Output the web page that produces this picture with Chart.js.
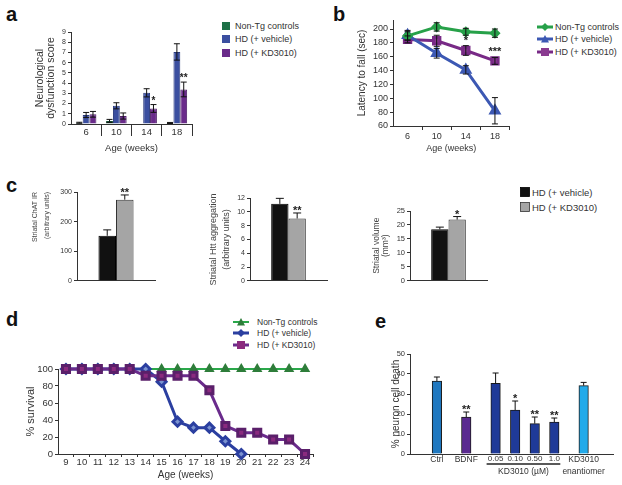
<!DOCTYPE html>
<html>
<head>
<meta charset="utf-8">
<script src="https://cdn.jsdelivr.net/npm/chart.js@4.4.0/dist/chart.umd.min.js"></script>
<style>
  body { margin: 0; width: 622px; height: 485px; position: relative; overflow: hidden; background: #fff;
         font-family: 'Liberation Sans', Arial, sans-serif; color: #333; }
  canvas { position: absolute; }
  .tag { position: absolute; font-weight: bold; font-size: 20px; line-height: 20px; color: #111; }
  .legend { position: absolute; font-size: 9px; white-space: nowrap; }
  .legend .row { display: flex; align-items: center; }
  .legend svg { flex: none; }
</style>
</head>
<body>
<div class="tag" style="left:6px;top:4px">a</div>
<div class="tag" style="left:333px;top:4px">b</div>
<div class="tag" style="left:6px;top:175px">c</div>
<div class="tag" style="left:6px;top:309px">d</div>
<div class="tag" style="left:375px;top:311px">e</div>

<canvas id="chartA"></canvas>
<canvas id="chartB"></canvas>
<canvas id="chartC1"></canvas>
<canvas id="chartC2"></canvas>
<canvas id="chartC3"></canvas>
<canvas id="chartD"></canvas>
<canvas id="chartE"></canvas>

<div class="legend" id="legendA" style="left:222px;top:19px"></div>
<div class="legend" id="legendB" style="left:537px;top:20.5px"></div>
<div class="legend" id="legendC" style="left:520px;top:184.5px;font-size:9.5px"></div>
<div class="legend" id="legendD" style="left:233px;top:316px;font-size:8.5px"></div>

<script>
// ---- data ----
const groupNames = ['Non-Tg controls', 'HD (+ vehicle)', 'HD (+ KD3010)'];

// a: neurological dysfunction score
const aAges = ['6', '10', '14', '18'];
const aNonTg = [0.12, 0.3, 0, 0.1];
const aNonTgErr = [0.05, 0.15, 0, 0.05];
const aVehicle = [0.88, 1.78, 3.05, 7.05];
const aVehicleErr = [0.25, 0.3, 0.4, 0.8];
const aKD = [0.95, 0.78, 1.52, 3.38];
const aKDErr = [0.28, 0.3, 0.38, 0.72];
const aKDStars = ['', '', '*', '**'];

// b: latency to fall
const bAges = ['6', '10', '14', '18'];
const bNonTg = [190, 203, 196, 194];
const bNonTgErr = [6, 6, 5, 6];
const bVehicle = [191, 165, 141, 82];
const bVehicleErr = [7, 7, 6, 19];
const bKD = [185, 183, 169, 154];
const bKDErr = [5, 8, 7, 5];
const bKDStars = ['', '', '*', '***'];

// c: striatal measures (vehicle vs KD3010)
const cGroups = ['HD (+ vehicle)', 'HD (+ KD3010)'];
const cChat = [152, 274];
const cChatErr = [20, 16];
const cChatStars = ['', '**'];
const cHtt = [11.15, 9.03];
const cHttErr = [0.8, 0.8];
const cHttStars = ['', '**'];
const cVolume = [18.4, 21.9];
const cVolumeErr = [0.8, 1.1];
const cVolumeStars = ['', '*'];

// d: survival
const dWeeks = ['9', '10', '11', '12', '13', '14', '15', '16', '17', '18', '19', '20', '21', '22', '23', '24'];
const dNonTg = [100, 100, 100, 100, 100, 100, 100, 100, 100, 100, 100, 100, 100, 100, 100, 100];
const dVehicle = [100, 100, 100, 100, 100, 100, 85, 38, 31, 31, 15, 0, null, null, null, null];
const dKD = [100, 100, 100, 100, 100, 92, 92, 92, 92, 75, 33, 25, 25, 17, 17, 0];

// e: neuron cell death
const eLabels = ['Ctrl', 'BDNF', '0.05', '0.10', '0.50', '1.0', ['KD3010', 'enantiomer']];
const eValues = [36.5, 18.5, 35.3, 22, 15.2, 16, 34.2];
const eErr = [2, 2.5, 5.2, 4.5, 3.3, 2, 1.6];
const eStars = ['', '**', '', '*', '**', '**', ''];
const eGroupLabel = 'KD3010 (\u00b5M)';

// ---- setup ----
const FONT = "'Liberation Sans', Arial, sans-serif";
Chart.defaults.font.family = FONT;
Chart.defaults.color = '#333';
Chart.defaults.animation = false;
Chart.defaults.events = [];
Chart.defaults.plugins.legend.display = false;
Chart.defaults.plugins.tooltip.enabled = false;

// error bars + significance stars, from each dataset's errors array
const errorBars = {
  id: 'errorBars',
  afterDatasetsDraw(chart) {
    const ctx = chart.ctx;
    const y = chart.scales.y;
    chart.data.datasets.forEach((ds, i) => {
      if (!ds.errors) return;
      const meta = chart.getDatasetMeta(i);
      meta.data.forEach((el, j) => {
        const raw = ds.data[j];
        const v = raw !== null && typeof raw === 'object' ? raw.y : raw;
        if (v == null) return;
        const e = ds.errors[j] || 0;
        const top = y.getPixelForValue(v + e);
        const cap = ds.capWidth || 3;
        ctx.save();
        ctx.strokeStyle = '#111';
        ctx.lineWidth = 1;
        if (e > 0) {
          const bot = ds.errorBoth ? y.getPixelForValue(v - e) : el.y;
          ctx.beginPath();
          ctx.moveTo(el.x, top); ctx.lineTo(el.x, bot);
          ctx.moveTo(el.x - cap, top); ctx.lineTo(el.x + cap, top);
          if (ds.errorBoth) { ctx.moveTo(el.x - cap, bot); ctx.lineTo(el.x + cap, bot); }
          ctx.stroke();
        }
        if (ds.stars && ds.stars[j]) {
          ctx.fillStyle = '#222';
          ctx.font = 'bold ' + (ds.starSize || 10) + 'px ' + FONT;
          ctx.textAlign = 'center';
          ctx.textBaseline = 'alphabetic';
          ctx.fillText(ds.stars[j], el.x, top + (ds.starGap || 0));
        }
        ctx.restore();
      });
    });
  }
};
Chart.register(errorBars);

function makeChart(id, box, config) {
  const p = Object.assign({ top: 12, right: 6, bottom: 2, left: 0 }, box.pad || {});
  const canvas = document.getElementById(id);
  const w = box.x1 - box.x0 + box.yw + p.left + p.right;
  const h = box.y1 - box.y0 + box.xh + p.top + p.bottom;
  canvas.width = w; canvas.height = h;
  canvas.style.width = w + 'px'; canvas.style.height = h + 'px';
  canvas.style.left = (box.x0 - box.yw - p.left) + 'px';
  canvas.style.top = (box.y0 - p.top) + 'px';
  config.options.responsive = false;
  config.options.layout = { padding: p };
  config.options.scales.x.afterFit = s => { s.height = box.xh; };
  config.options.scales.y.afterFit = s => { s.width = box.yw; };
  return new Chart(canvas, config);
}

function yAxis(min, max, step, size, title) {
  return {
    min, max,
    ticks: { stepSize: step, font: { size }, padding: 2, includeBounds: false, autoSkip: false, color: '#333' },
    grid: { drawOnChartArea: false, tickLength: 3, color: '#333' },
    border: { color: '#333' },
    title
  };
}
const hideFirst = c => c.index === 0 ? 'rgba(0,0,0,0)' : '#333';

// ---- a ----
const chartA = makeChart('chartA', { x0: 71, x1: 192, y0: 32, y1: 124, yw: 41, xh: 30 }, {
  type: 'bar',
  data: {
    labels: aAges,
    datasets: [
      { label: groupNames[0], data: aNonTg, errors: aNonTgErr, errorBoth: true, backgroundColor: '#1d7047', borderColor: '#145234', borderWidth: 1 },
      { label: groupNames[1], data: aVehicle, errors: aVehicleErr, errorBoth: true, backgroundColor: '#3b4fa0', borderColor: '#2a3a7c', borderWidth: 1 },
      { label: groupNames[2], data: aKD, errors: aKDErr, errorBoth: true, stars: aKDStars, starGap: -1, backgroundColor: '#6a2b8a', borderColor: '#4d1f66', borderWidth: 1 }
    ]
  },
  options: {
    datasets: { bar: { barPercentage: 1, categoryPercentage: 0.68 } },
    scales: {
      x: {
        grid: { offset: true, drawOnChartArea: false, tickLength: 12, color: c => (c.index === 0 || c.index === 4) ? 'rgba(0,0,0,0)' : '#333' },
        border: { color: '#333' },
        ticks: { font: { size: 9.5 }, padding: -9, color: '#333' },
        title: { display: true, text: 'Age (weeks)', font: { size: 9.5 }, padding: { top: 0, bottom: 0 } }
      },
      y: yAxis(0, 9, 1, 7, { display: true, text: ['Neurological', 'dysfunction score'], font: { size: 10.5, lineHeight: 1.1 }, padding: { top: 4, bottom: 0 } })
    }
  }
});

// ---- b ----
const chartB = makeChart('chartB', { x0: 393, x1: 511, y0: 20, y1: 126, yw: 38, xh: 28 }, {
  type: 'line',
  data: {
    labels: bAges,
    datasets: [
      { label: groupNames[0], data: bNonTg, errors: bNonTgErr, errorBoth: true, borderColor: '#27a149', backgroundColor: '#27a149', pointStyle: 'rectRot', pointRadius: 3.5, borderWidth: 3 },
      { label: groupNames[1], data: bVehicle, errors: bVehicleErr, errorBoth: true, borderColor: '#3c58b3', backgroundColor: '#3c58b3', pointStyle: 'triangle', pointRadius: 4.5, borderWidth: 3 },
      { label: groupNames[2], data: bKD, errors: bKDErr, errorBoth: true, stars: bKDStars, starGap: -2, starSize: 11, borderColor: '#782a86', backgroundColor: '#8a3a90', pointStyle: 'rect', pointRadius: 4.5, borderWidth: 3 }
    ]
  },
  options: {
    elements: { line: { tension: 0 }, point: { borderWidth: 1 } },
    scales: {
      x: {
        offset: true,
        grid: { offset: true, drawOnChartArea: false, tickLength: 4, color: hideFirst },
        border: { color: '#333' },
        ticks: { font: { size: 9 }, padding: 1, color: '#333' },
        title: { display: true, text: 'Age (weeks)', font: { size: 9 }, padding: { top: 0, bottom: 0 } }
      },
      y: yAxis(60, 213, 20, 9, { display: true, text: 'Latency to fall (sec)', font: { size: 10 }, padding: { top: 1.5, bottom: 0 } })
    }
  }
});

// ---- c ----
function cChart(id, box, values, errs, stars, max, step, tickSize, title) {
  return makeChart(id, box, {
    type: 'bar',
    data: {
      labels: [''],
      datasets: [
        { label: cGroups[0], data: [values[0]], errors: [errs[0]], stars: [stars[0]], capWidth: 4, starSize: 11, starGap: 1, backgroundColor: '#111', borderColor: '#000', borderWidth: 1 },
        { label: cGroups[1], data: [values[1]], errors: [errs[1]], stars: [stars[1]], capWidth: 4, starSize: 11, starGap: 1, backgroundColor: '#a5a5a5', borderColor: '#333', borderWidth: 1 }
      ]
    },
    options: {
      datasets: { bar: { barPercentage: 1, categoryPercentage: 0.45 } },
      scales: {
        x: { grid: { display: false }, border: { color: '#333' }, ticks: { display: false } },
        y: yAxis(0, max, step, tickSize, title)
      }
    }
  });
}
const chartC1 = cChart('chartC1', { x0: 77, x1: 155, y0: 192, y1: 283, yw: 51, xh: 2 }, cChat, cChatErr, cChatStars, 300, 100, 7,
  { display: true, text: ['Striatal ChAT IR', '(arbitrary units)'], align: 'end', color: '#444', font: { size: 7, lineHeight: 1.7 }, padding: { top: 3, bottom: 0 } });
const chartC2 = cChart('chartC2', { x0: 250, x1: 327, y0: 198, y1: 283, yw: 45, xh: 2 }, cHtt, cHttErr, cHttStars, 12, 2, 7,
  { display: true, text: ['Striatal Htt aggregation', '(arbitrary units)'], color: '#444', font: { size: 9, lineHeight: 1.45 }, padding: { top: 1.5, bottom: 0 } });
const chartC3 = cChart('chartC3', { x0: 410, x1: 487, y0: 211, y1: 283, yw: 42, xh: 2 }, cVolume, cVolumeErr, cVolumeStars, 25, 5, 7.5,
  { display: true, text: ['Striatal volume', '(mm\u00b3)'], color: '#444', font: { size: 8.5, lineHeight: 1.06 }, padding: { top: 4.5, bottom: 0 } });

// ---- d ----
const chartD = makeChart('chartD', { x0: 58, x1: 315, y0: 369, y1: 454, yw: 36, xh: 27, pad: { top: 8 } }, {
  type: 'line',
  data: {
    labels: dWeeks,
    datasets: [
      { label: groupNames[0], data: dNonTg, order: 3, borderColor: '#2aa84a', backgroundColor: '#2e7d3a', pointBorderColor: '#2e7d3a', pointStyle: 'triangle', pointRadius: 4, borderWidth: 2, clip: false },
      { label: groupNames[1], data: dVehicle, order: 2, borderColor: '#2b3fa0', backgroundColor: '#7b93d0', pointBorderColor: '#2b3fa0', pointStyle: 'rectRot', pointRadius: 4.5, borderWidth: 3, clip: false },
      { label: groupNames[2], data: dKD, order: 1, borderColor: '#6a2b8c', backgroundColor: '#8a2a7e', pointBorderColor: '#5a1f6a', pointStyle: 'rect', pointRadius: 5, borderWidth: 3, clip: false }
    ]
  },
  options: {
    elements: { line: { tension: 0 }, point: { borderWidth: 1 } },
    scales: {
      x: {
        offset: true,
        grid: { offset: true, drawOnChartArea: false, tickLength: 3, color: hideFirst },
        border: { color: '#333' },
        ticks: { font: { size: 9.5 }, padding: 0, color: '#333', autoSkip: false, maxRotation: 0 },
        title: { display: true, text: 'Age (weeks)', font: { size: 10 }, padding: { top: 0, bottom: 0 } }
      },
      y: yAxis(0, 100, 20, 9.5, { display: true, text: '% survival', font: { size: 11 }, padding: { top: 2, bottom: 0 } })
    }
  }
});

// ---- e ----
const eSlots = [0, 3, 6, 8, 10, 12, 15];   // grouping gaps along the x axis
const kdGroup = {
  id: 'kdGroup',
  afterDraw(chart) {
    const x = chart.scales.x, ctx = chart.ctx;
    const l = x.getPixelForValue(eSlots[2]) - 9, r = x.getPixelForValue(eSlots[5]) + 6;
    const y = chart.chartArea.bottom + 10;
    ctx.save();
    ctx.strokeStyle = '#222'; ctx.lineWidth = 1.3;
    ctx.beginPath(); ctx.moveTo(l, y); ctx.lineTo(r, y); ctx.stroke();
    ctx.font = '8.5px ' + FONT; ctx.fillStyle = '#333';
    ctx.textAlign = 'center'; ctx.textBaseline = 'middle';
    ctx.fillText(eGroupLabel, (l + r) / 2, y + 8);
    ctx.restore();
  }
};
const chartE = makeChart('chartE', { x0: 410, x1: 613, y0: 354, y1: 454, yw: 22, xh: 28, pad: { right: 4 } }, {
  type: 'bar',
  data: {
    datasets: [{
      data: eValues.map((v, i) => ({ x: eSlots[i], y: v })),
      errors: eErr, stars: eStars, capWidth: 3, starSize: 11, starGap: 1,
      backgroundColor: ['#1f78c0', '#5a2a90', '#1f3a98', '#1f3a98', '#1f3a98', '#1f3a98', '#22aaea'],
      borderColor: '#1a1a1a', borderWidth: 1, barThickness: 9.5
    }]
  },
  options: {
    scales: {
      x: {
        type: 'linear', min: -2.75, max: 18, offset: false,
        afterBuildTicks: s => { s.ticks = eSlots.map(v => ({ value: v })); },
        grid: { display: false, drawTicks: false },
        border: { color: '#333' },
        ticks: { callback: (v, i) => eLabels[i], padding: -1, color: '#333', autoSkip: false, maxRotation: 0,
                 font: c => ({ size: c.index >= 2 && c.index <= 5 ? 8 : 8.5, lineHeight: 1.45 }) }
      },
      y: yAxis(0, 50, 10, 7.5, { display: true, text: '% neuron cell death', font: { size: 10 }, padding: { top: 2.5, bottom: 0 } })
    }
  },
  plugins: [kdGroup]
});

// ---- legends (built from chart datasets) ----
function swatch(ds, kind) {
  const fill = ds.backgroundColor, line = ds.borderColor;
  if (kind === 'box') {
    return `<svg width="10" height="10" style="margin-right:2px"><rect x="0.5" y="0.5" width="9" height="9" fill="${fill}" stroke="${ds.borderColor === '#000' ? '#000' : '#333'}" stroke-width="0.8"/></svg>`;
  }
  if (kind === 'square') {
    return `<svg width="8" height="8" style="margin-right:5px"><rect width="8" height="8" fill="${fill}"/></svg>`;
  }
  let mk = '';
  const f = ds.pointBorderColor || fill;
  if (ds.pointStyle === 'rectRot') mk = `<polygon points="8,1 12,5 8,9 4,5" fill="${kind === 'lineD' ? line : fill}"/>`;
  if (ds.pointStyle === 'triangle') mk = `<polygon points="8,1 12,8.5 4,8.5" fill="${f}"/>`;
  if (ds.pointStyle === 'rect') mk = `<rect x="4" y="1" width="8" height="8" fill="${fill}"/>`;
  return `<svg width="16" height="10" style="margin-right:${kind === 'lineD' ? 8 : 2}px"><line x1="0" y1="5" x2="16" y2="5" stroke="${line}" stroke-width="${ds.borderWidth}"/>${mk}</svg>`;
}
function buildLegend(id, chart, kind, rowH) {
  const el = document.getElementById(id);
  chart.data.datasets.forEach(ds => {
    const row = document.createElement('div');
    row.className = 'row';
    row.style.height = rowH + 'px';
    row.innerHTML = swatch(ds, kind) + '<span>' + ds.label + '</span>';
    el.appendChild(row);
  });
}
buildLegend('legendA', chartA, 'square', 13.5);
buildLegend('legendB', chartB, 'line', 12.5);
buildLegend('legendC', chartC1, 'box', 15);
buildLegend('legendD', chartD, 'lineD', 11.5);
</script>
</body>
</html>
